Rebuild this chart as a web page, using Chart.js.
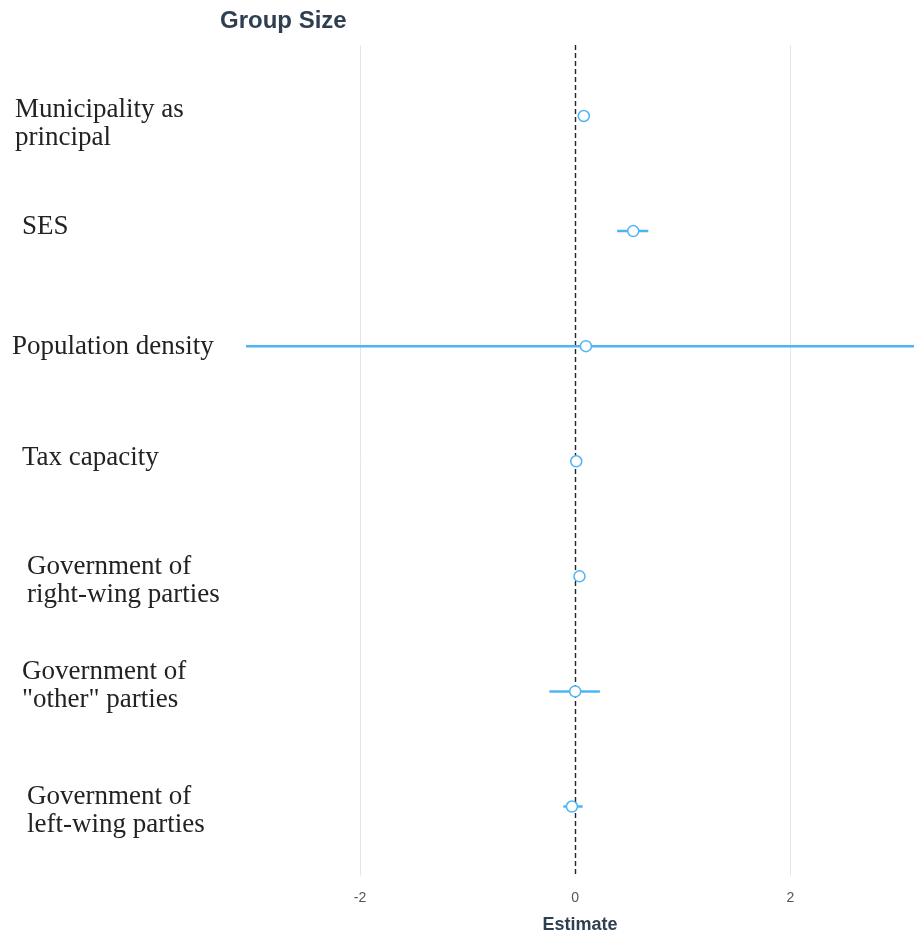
<!DOCTYPE html>
<html>
<head>
<meta charset="utf-8">
<script src="https://cdn.jsdelivr.net/npm/chart.js@4"></script>
<style>
  html, body { margin: 0; padding: 0; background: #ffffff; overflow: hidden; }
  canvas { display: block; }
</style>
</head>
<body>
<canvas id="chart" width="914" height="936"></canvas>
<script>
// Coefficient plot data
const labels = [
    ['Municipality as', 'principal'],
    ['SES'],
    ['Population density'],
    ['Tax capacity'],
    ['Government of', 'right-wing parties'],
    ['Government of', '"other" parties'],
    ['Government of', 'left-wing parties']
];
const estimates = [0.08, 0.54, 0.10, 0.01, 0.04, 0.00, -0.03];
const lower = [0.05, 0.39, -3.10, -0.02, 0.00, -0.24, -0.11];
const upper = [0.12, 0.68, 3.40, 0.04, 0.09, 0.23, 0.07];
const xTicks = [-2, 0, 2];

// label placement tweaks, px (the original labels are not all aligned)
const labelIndent = [15, 22, 12, 22, 27, 22, 27];
const labelShift = [8, -4, 1, -3, 5, -6, 4];

const blue = '#4fb5f2';
const ink = '#2e3f52';

const rows = labels.map((_, i) => i + 1);

// Dashed zero line, row labels and title
const extras = {
    id: 'extras',
    beforeDatasetsDraw(chart) {
        const { ctx, chartArea, scales } = chart;
        const x0 = Math.round(scales.x.getPixelForValue(0)) + 0.5;
        ctx.save();
        ctx.strokeStyle = '#222222';
        ctx.lineWidth = 1.4;
        ctx.setLineDash([5, 3]);
        ctx.beginPath();
        ctx.moveTo(x0, chartArea.top);
        ctx.lineTo(x0, chartArea.bottom + 6);
        ctx.stroke();
        ctx.restore();
    },
    afterDraw(chart) {
        const { ctx, chartArea, scales } = chart;
        ctx.save();
        ctx.fillStyle = '#222222';
        ctx.font = '27px "Liberation Serif", "Times New Roman", serif';
        ctx.textAlign = 'left';
        ctx.textBaseline = 'middle';
        const lh = 28;
        rows.forEach((r, i) => {
            const yc = scales.y.getPixelForValue(r) + labelShift[i];
            const lines = labels[i];
            const y0 = yc - (lines.length - 1) * lh / 2;
            lines.forEach((t, k) => ctx.fillText(t, labelIndent[i], y0 + k * lh));
        });

        ctx.fillStyle = ink;
        ctx.font = 'bold 24px "Liberation Sans", Arial, sans-serif';
        ctx.fillText('Group Size', chartArea.left - 26, 21);
        ctx.restore();
    }
};

// one line dataset per confidence interval
const ciSets = rows.map((y, i) => ({
    type: 'line',
    order: 2,
    data: [{ x: lower[i], y: y }, { x: upper[i], y: y }],
    borderColor: blue,
    borderWidth: 2.5,
    pointRadius: 0,
    fill: false
}));

const pointSet = {
    type: 'scatter',
    order: 1,
    data: rows.map((y, i) => ({ x: estimates[i], y: y })),
    backgroundColor: '#ffffff',
    borderColor: blue,
    borderWidth: 1.5,
    pointRadius: 5.5,
    pointHoverRadius: 5.5
};

new Chart(document.getElementById('chart'), {
    type: 'scatter',
    data: { datasets: [...ciSets, pointSet] },
    options: {
        responsive: false,
        animation: false,
        layout: { autoPadding: false, padding: { top: 45, left: 0, right: 0, bottom: 0 } },
        plugins: {
            legend: { display: false },
            tooltip: { enabled: false }
        },
        scales: {
            x: {
                type: 'linear',
                min: -3.06,
                max: 3.15,
                afterBuildTicks: (scale) => {
                    scale.ticks = xTicks.map(v => ({ value: v }));
                },
                border: { display: false },
                grid: {
                    color: (c) => c.tick && c.tick.value === 0 ? 'rgba(0,0,0,0)' : '#e6e6e6',
                    tickLength: 6
                },
                ticks: {
                    color: '#555555',
                    padding: 14,
                    font: { size: 14, family: '"Liberation Sans", Arial, sans-serif' }
                },
                title: {
                    display: true,
                    text: 'Estimate',
                    color: ink,
                    padding: { top: 0, bottom: 6 },
                    font: { size: 18, weight: 'bold', lineHeight: 0.533, family: '"Liberation Sans", Arial, sans-serif' }
                }
            },
            y: {
                type: 'linear',
                reverse: true,
                min: 0.383,
                max: 7.548,
                afterBuildTicks: (scale) => {
                    scale.ticks = rows.map(v => ({ value: v }));
                },
                afterFit: (scale) => { scale.width = 246; },
                border: { display: false },
                grid: { display: false },
                ticks: { display: false }
            }
        }
    },
    plugins: [extras]
});
</script>
</body>
</html>
